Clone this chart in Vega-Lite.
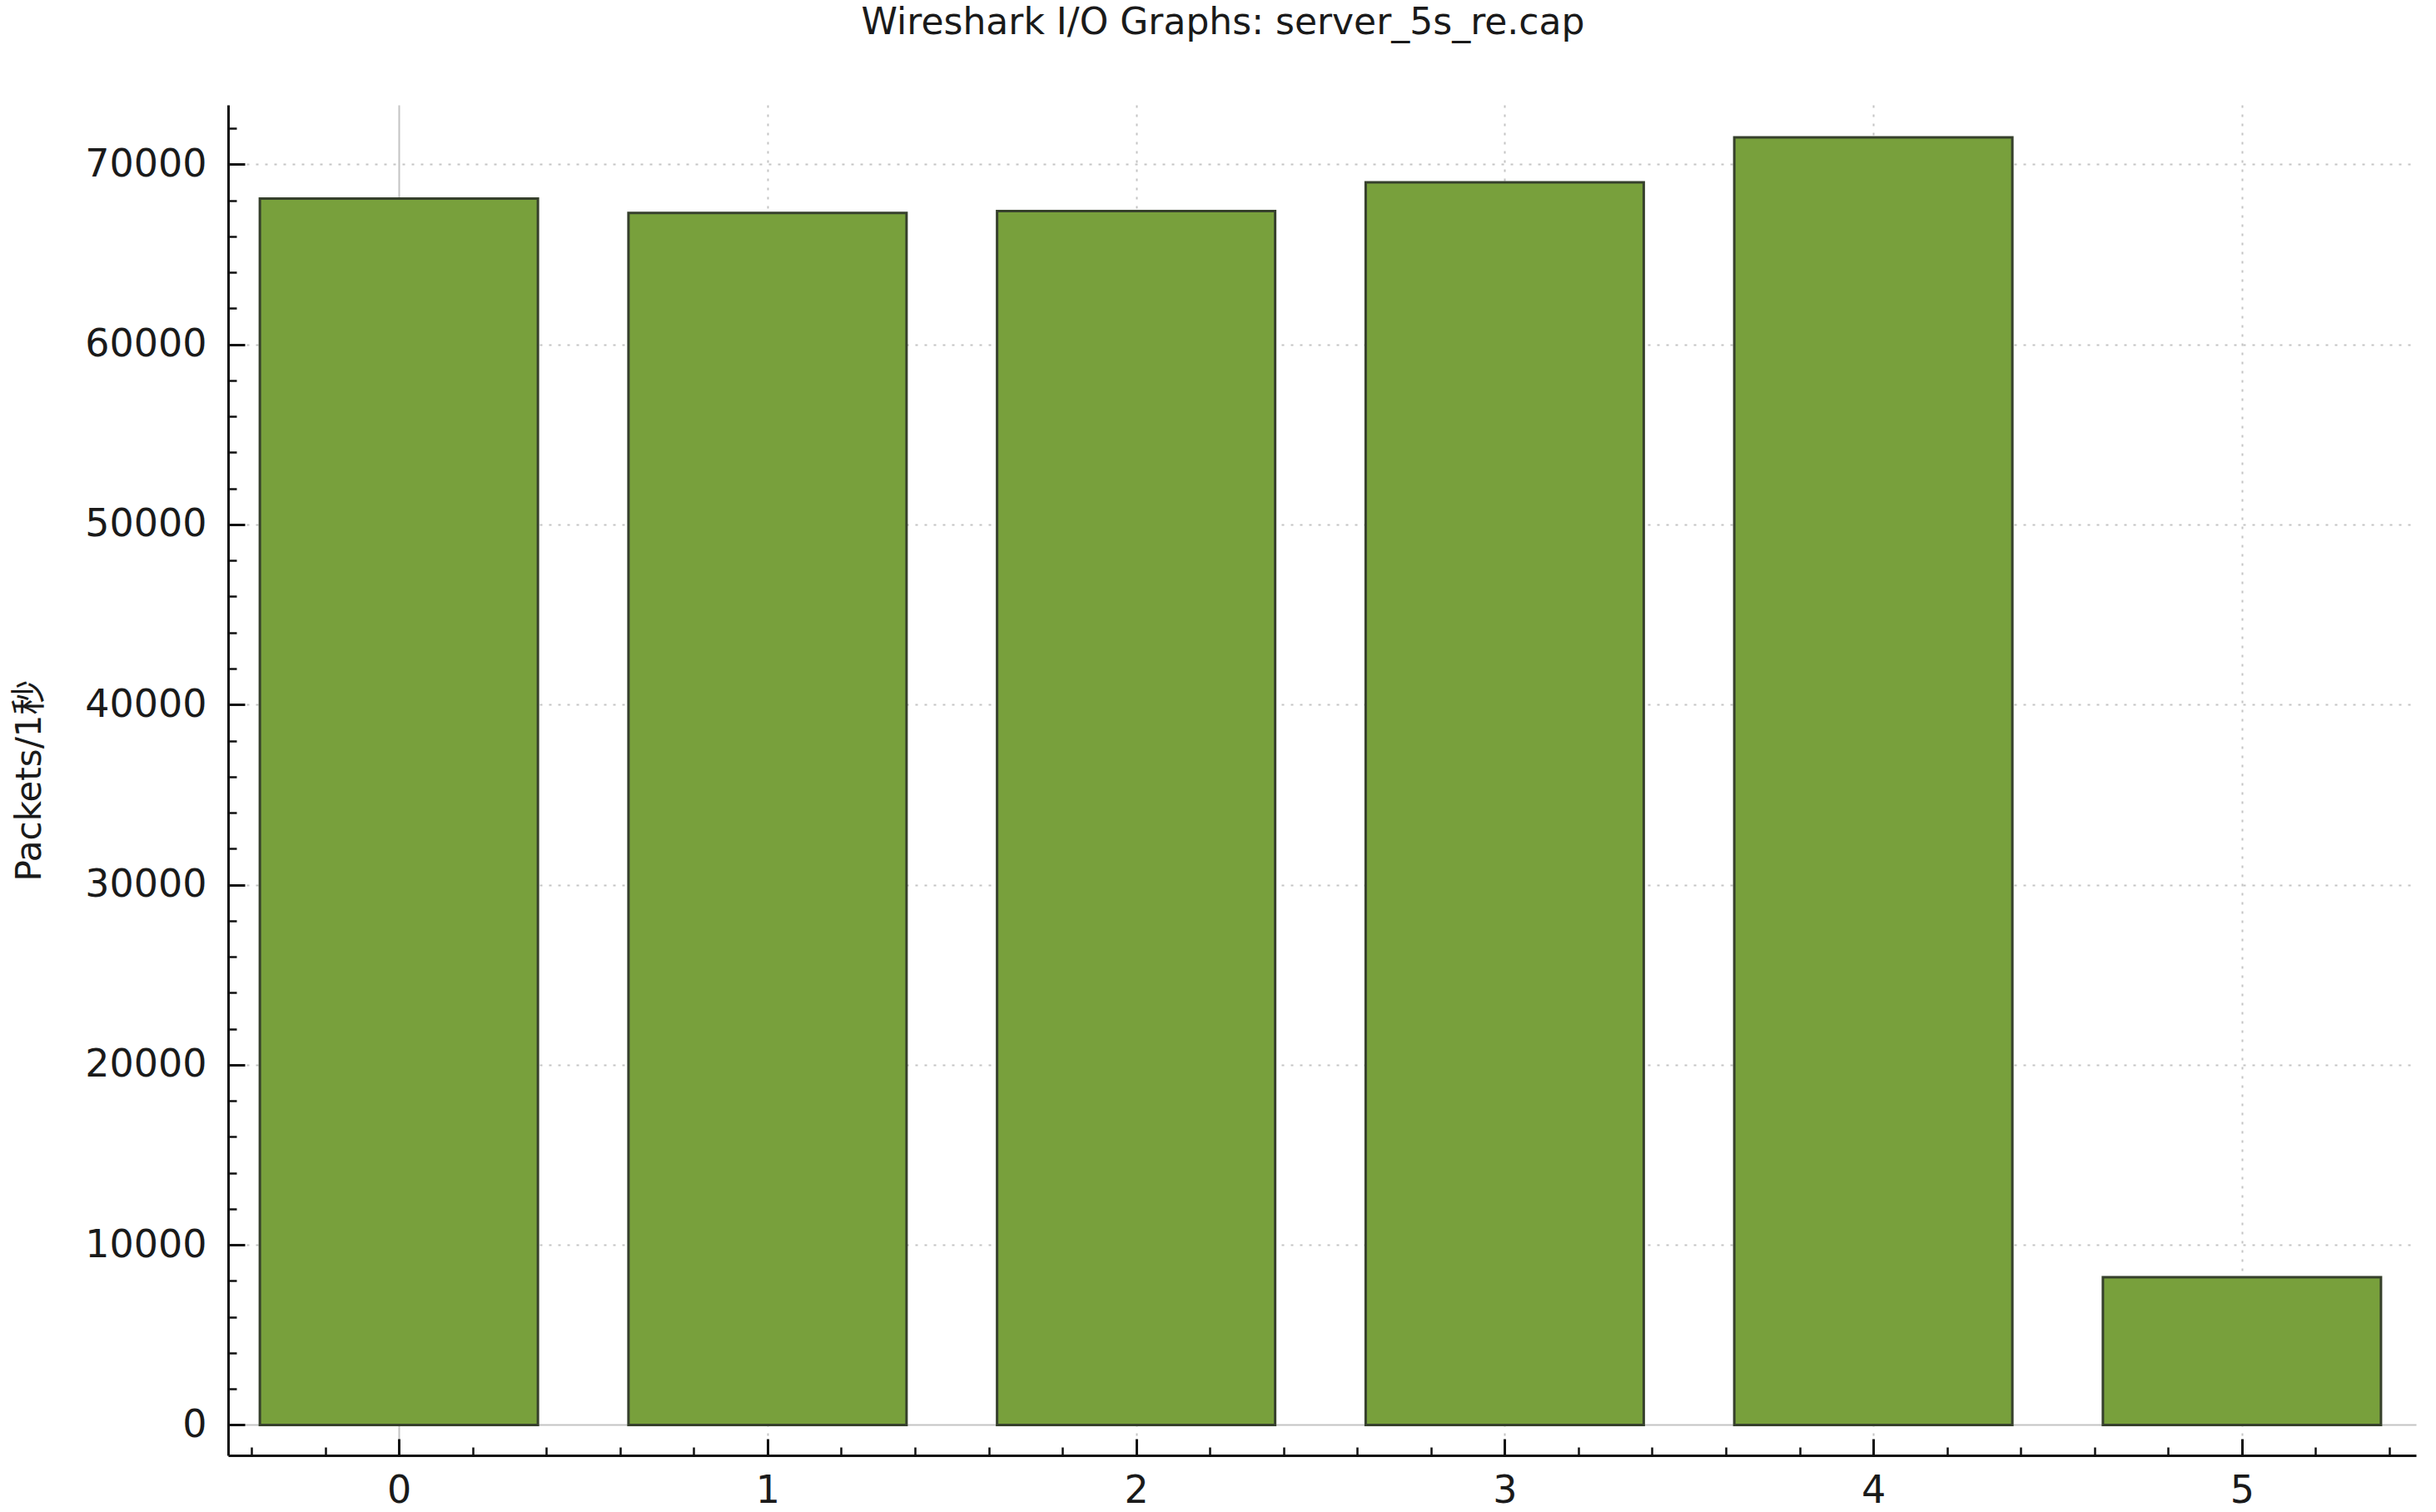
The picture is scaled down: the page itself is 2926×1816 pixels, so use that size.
{
  "$schema": "https://vega.github.io/schema/vega-lite/v6.json",
  "width": 2628,
  "height": 1622,
  "autosize": "none",
  "padding": {"left": 274, "top": 126, "right": 24, "bottom": 68},
  "background": "white",
  "title": {"text": "Wireshark I/O Graphs: server_5s_re.cap", "font": "DejaVu Sans", "fontSize": 44, "fontWeight": "normal", "color": "#1a1a1a", "anchor": "middle", "offset": 76, "dx": -119},
  "data": {"values": [
    {"t": 0, "packets": 68100},
    {"t": 1, "packets": 67300},
    {"t": 2, "packets": 67400},
    {"t": 3, "packets": 69000},
    {"t": 4, "packets": 71500},
    {"t": 5, "packets": 8200}
  ]},
  "layer": [
    {
      "mark": {"type": "bar", "width": 334, "fill": "#78a03c", "stroke": "#36402c", "strokeWidth": 3},
      "encoding": {
        "x": {"field": "t", "type": "quantitative",
          "scale": {"domain": [-0.452, 5.461], "nice": false, "zero": false},
          "axis": {"orient": "bottom", "values": [0, 1, 2, 3, 4, 5], "title": null,
            "tickSize": -20, "tickWidth": 3, "tickColor": "#111", "domainColor": "#111", "domainWidth": 3,
            "labelFont": "DejaVu Sans", "labelFontSize": 46, "labelColor": "#1a1a1a", "labelPadding": 40,
            "grid": true, "gridColor": "#c4c4c4", "gridWidth": 2,
            "gridDash": {"condition": {"test": "datum.value === 0", "value": []}, "value": [3, 8]}}},
        "y": {"field": "packets", "type": "quantitative",
          "scale": {"domain": [-1690, 73300], "nice": false, "zero": false},
          "axis": {"orient": "left", "values": [0, 10000, 20000, 30000, 40000, 50000, 60000, 70000], "format": "d",
            "title": "Packets/1秒", "titleFont": "DejaVu Sans, Noto Sans CJK SC", "titleFontSize": 42, "titleFontWeight": "normal", "titleColor": "#1a1a1a", "titlePadding": 44,
            "tickSize": -20, "tickWidth": 3, "tickColor": "#111", "domainColor": "#111", "domainWidth": 3,
            "labelFont": "DejaVu Sans", "labelFontSize": 46, "labelColor": "#1a1a1a", "labelPadding": 46,
            "grid": true, "gridColor": "#c4c4c4", "gridWidth": 2,
            "gridDash": {"condition": {"test": "datum.value === 0", "value": []}, "value": [3, 8]}}}
      }
    },
    {
      "mark": {"type": "point", "opacity": 0},
      "encoding": {
        "x": {"field": "t", "type": "quantitative",
          "axis": {"orient": "bottom", "values": [-0.4, -0.2, 0.2, 0.4, 0.6, 0.8, 1.2, 1.4, 1.6, 1.8, 2.2, 2.4, 2.6, 2.8, 3.2, 3.4, 3.6, 3.8, 4.2, 4.4, 4.6, 4.8, 5.2, 5.4],
            "title": null, "labels": false, "domain": false, "grid": false, "tickSize": -10, "tickWidth": 2.5, "tickColor": "#111"}},
        "y": {"field": "packets", "type": "quantitative",
          "axis": {"orient": "left", "values": [2000, 4000, 6000, 8000, 12000, 14000, 16000, 18000, 22000, 24000, 26000, 28000, 32000, 34000, 36000, 38000, 42000, 44000, 46000, 48000, 52000, 54000, 56000, 58000, 62000, 64000, 66000, 68000, 72000],
            "title": null, "labels": false, "domain": false, "grid": false, "tickSize": -10, "tickWidth": 2.5, "tickColor": "#111"}}
      }
    }
  ],
  "resolve": {"axis": {"x": "independent", "y": "independent"}},
  "config": {"view": {"stroke": null}}
}
